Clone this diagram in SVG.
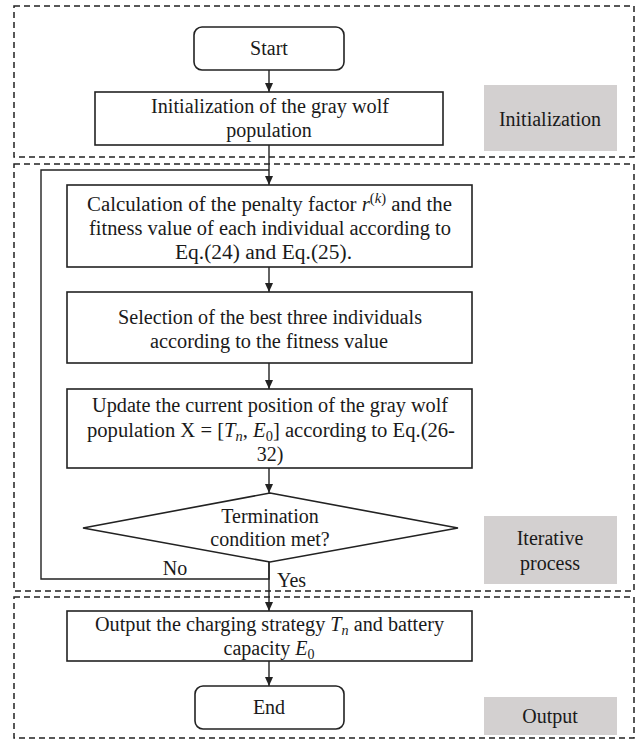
<svg xmlns="http://www.w3.org/2000/svg" width="640" height="741" viewBox="0 0 640 741">
<defs>
<marker id="arr" markerUnits="userSpaceOnUse" markerWidth="10" markerHeight="10" viewBox="0 0 10 10" refX="9" refY="5" orient="auto">
<path d="M0,1 L9,5 L0,9 Z" fill="#222"/>
</marker>
</defs>
<style>
.t{font-family:"Liberation Serif","Times New Roman",serif;font-size:20px;fill:#1a1a1a;text-anchor:middle}
.tl{font-family:"Liberation Serif","Times New Roman",serif;font-size:20px;fill:#1a1a1a}
.i{font-style:italic}
.s{font-size:14px}
.box{fill:#fff;stroke:#222;stroke-width:1.6}
.grp{fill:none;stroke:#222;stroke-width:1.5;stroke-dasharray:6 4}
.tag{fill:#d3d0d0;stroke:none}
.c{fill:none;stroke:#222;stroke-width:1.4}
</style>
<rect width="640" height="741" fill="#fff"/>
<g id="stages">
<rect class="grp" x="14" y="6" width="620" height="151"/>
<rect class="grp" x="14" y="164" width="620" height="427"/>
<rect class="grp" x="14" y="597" width="620" height="141"/>
<g id="tag-init"><rect class="tag" x="484" y="85" width="133" height="66"/><text class="t" x="550" y="126">Initialization</text></g>
<g id="tag-iter"><rect class="tag" x="484" y="516" width="133" height="68"/><text class="t" x="550" y="545">Iterative</text><text class="t" x="550" y="570">process</text></g>
<g id="tag-out"><rect class="tag" x="484" y="697" width="133" height="38"/><text class="t" x="550" y="723">Output</text></g>
</g>
<g id="connectors">
<line class="c" x1="269" y1="70" x2="269" y2="92" marker-end="url(#arr)"/>
<line class="c" x1="269" y1="145" x2="269" y2="185" marker-end="url(#arr)"/>
<path class="c" d="M269,562 V579 H41 V170 H269"/>
<line class="c" x1="269" y1="267" x2="269" y2="292" marker-end="url(#arr)"/>
<line class="c" x1="269" y1="363" x2="269" y2="389" marker-end="url(#arr)"/>
<line class="c" x1="269" y1="468" x2="269" y2="493" marker-end="url(#arr)"/>
<line class="c" x1="269" y1="562" x2="269" y2="611" marker-end="url(#arr)"/>
<line class="c" x1="269" y1="661" x2="269" y2="686" marker-end="url(#arr)"/>
<text class="t" x="175" y="575">No</text>
<text class="tl" x="277" y="587">Yes</text>
</g>
<g id="start">
<rect class="box" x="194" y="27" width="150" height="43" rx="8"/>
<text class="t" x="269" y="55">Start</text>
</g>
<g id="init">
<rect class="box" x="95" y="92" width="348" height="53"/>
<text class="tl" x="151" y="113" textLength="238" lengthAdjust="spacingAndGlyphs">Initialization of the gray wolf</text>
<text class="t" x="269" y="137">population</text>
</g>
<g id="calc">
<rect class="box" x="67" y="185" width="405" height="82"/>
<text class="tl" x="87" y="211" textLength="365" lengthAdjust="spacingAndGlyphs">Calculation of the penalty factor <tspan class="i">r</tspan><tspan class="s" dy="-8">(<tspan class="i">k</tspan>)</tspan><tspan dy="8"> and the</tspan></text>
<text class="tl" x="89" y="235" textLength="362" lengthAdjust="spacingAndGlyphs">fitness value of each individual according to</text>
<text class="tl" x="175" y="259" textLength="177" lengthAdjust="spacingAndGlyphs">Eq.(24) and Eq.(25).</text>
</g>
<g id="select">
<rect class="box" x="67" y="292" width="405" height="71"/>
<text class="tl" x="118" y="324" textLength="304" lengthAdjust="spacingAndGlyphs">Selection of the best three individuals</text>
<text class="tl" x="150" y="348" textLength="238" lengthAdjust="spacingAndGlyphs">according to the fitness value</text>
</g>
<g id="update">
<rect class="box" x="67" y="389" width="405" height="79"/>
<text class="tl" x="92" y="412" textLength="356" lengthAdjust="spacingAndGlyphs">Update the current position of the gray wolf</text>
<text class="tl" x="87" y="437" textLength="368" lengthAdjust="spacingAndGlyphs">population X = [<tspan class="i">T</tspan><tspan class="s i" dy="4">n</tspan><tspan dy="-4">, </tspan><tspan class="i">E</tspan><tspan class="s" dy="4">0</tspan><tspan dy="-4">] according to Eq.(26-</tspan></text>
<text class="t" x="270" y="461">32)</text>
</g>
<g id="decision">
<polygon class="box" points="270,493 458,528 270,562 83,528"/>
<text class="t" x="270" y="523">Termination</text>
<text class="t" x="270" y="546">condition met?</text>
</g>
<g id="output">
<rect class="box" x="67" y="611" width="405" height="50"/>
<text class="tl" x="95" y="631" textLength="349" lengthAdjust="spacingAndGlyphs">Output the charging strategy <tspan class="i">T</tspan><tspan class="s i" dy="4">n</tspan><tspan dy="-4"> and battery</tspan></text>
<text class="t" x="269" y="655">capacity <tspan class="i">E</tspan><tspan class="s" dy="4">0</tspan></text>
</g>
<g id="end">
<rect class="box" x="195" y="686" width="149" height="43" rx="8"/>
<text class="t" x="269" y="714">End</text>
</g>
</svg>
